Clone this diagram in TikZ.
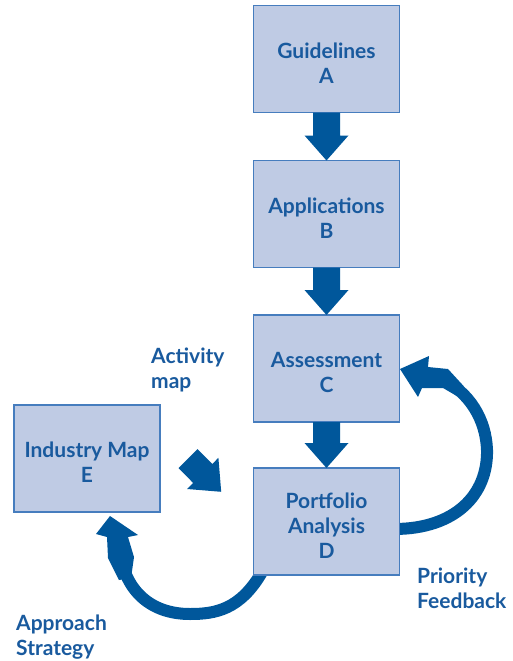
\documentclass[tikz,border=0pt]{standalone}
\usepackage{fontspec}
\setmainfont{Lato}
\usetikzlibrary{calc}
\definecolor{arrowblue}{RGB}{0,87,155}
\definecolor{textblue}{RGB}{25,90,158}
\definecolor{boxfill}{RGB}{191,203,228}
\definecolor{boxline}{RGB}{70,125,190}
\newcommand\blockdown[2]{%
  \fill[blockarrow] ([xshift=-13.5pt]#1.south) -- ([xshift=13.5pt]#1.south)
    -- ([xshift=13.5pt,yshift=25pt]#2.north) -- ([xshift=22pt,yshift=25pt]#2.north)
    -- (#2.north) -- ([xshift=-22pt,yshift=25pt]#2.north)
    -- ([xshift=-13.5pt,yshift=25pt]#2.north) -- cycle;}
\begin{document}
\begin{tikzpicture}[x=1pt,y=-1pt,
  box/.style={draw=boxline, line width=1.3pt, fill=boxfill, minimum width=146pt,
    minimum height=107pt, inner sep=0pt, outer sep=0pt},
  boxtext/.style={text=textblue, font=\fontsize{21}{25}\selectfont\bfseries,
    align=center, inner sep=0pt},
  lbl/.style={text=textblue, font=\fontsize{21}{25}\selectfont\bfseries,
    align=left, inner sep=0pt, anchor=base west},
  blockarrow/.style={fill=arrowblue},
  curvearrow/.style={draw=arrowblue, line width=12pt}]
\useasboundingbox (0,0) rectangle (512,661);
% curved shafts (under boxes)
\coordinate (rs) at (394,529);
\coordinate (re) at (440,378);
\coordinate (bs) at (262,572);
\coordinate (be) at (120,552);
\draw[curvearrow] (rs) .. controls (455,529) and (488,495) .. (487,450)
  .. controls (486,420) and (470,392) .. (re);
\draw[curvearrow] (bs) .. controls (240,610) and (215,614) .. (190,614)
  .. controls (150,614) and (125,590) .. (be);
% boxes
\node[box] (A) at (326.5,59) {};
\node[box] (B) at (326.5,214) {};
\node[box] (C) at (326.5,368.5) {};
\node[box] (D) at (326.5,521.5) {};
\node[box] (E) at (87,458.5) {};
\node[boxtext] (tA) at ([yshift=-4pt]A.center) {Guidelines\\A};
\node[boxtext] (tB) at ([yshift=-4pt]B.center) {Applications\\B};
\node[boxtext] (tC) at ([yshift=-4pt]C.center) {Assessment\\C};
\node[boxtext] (tD) at ([yshift=-4pt]D.center) {Portfolio\\Analysis\\D};
\node[boxtext] (tE) at ([yshift=-4pt]E.center) {Industry Map\\E};
% straight block arrows
\blockdown{A}{B}
\blockdown{B}{C}
\blockdown{C}{D}
% diagonal block arrow
\fill[blockarrow] (197.5,449) -- (212.4,463.9) -- (218.4,457.8) -- (221.2,491.8)
  -- (187.2,489) -- (193.2,483) -- (178.5,468) -- cycle;
% curved arrow heads
\fill[blockarrow] (400,369) -- (429,356) -- (428,367) -- (448,369) -- (463.6,386)
  -- (456.4,395.8) -- (443,388) -- (422,388) -- (418,397) -- cycle;
\fill[blockarrow] (110,516) -- (96,534) -- (107,537) -- (108,558) -- (119,580)
  -- (131,578) -- (134,557) -- (128,537) -- (138,535) -- cycle;
% labels (base = baseline of last line)
\node[lbl] (act) at (151,388) {Activity\\map};
\node[lbl] (app) at (16,655) {Approach\\Strategy};
\node[lbl] (pri) at (417,608) {Priority\\Feedback};
\end{tikzpicture}
\end{document}
